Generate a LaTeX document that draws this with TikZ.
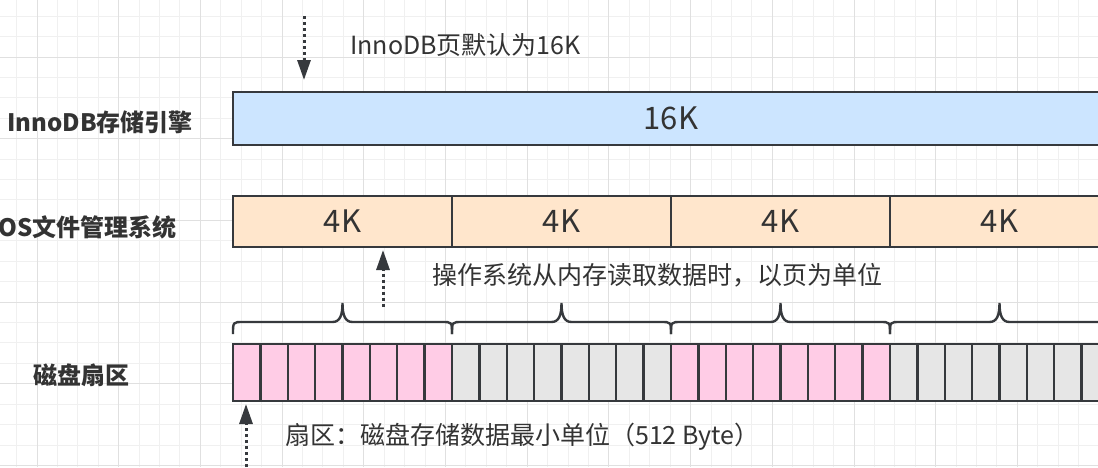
\documentclass[tikz,border=0pt]{standalone}
\usepackage{fontspec}
\setmainfont{Noto Sans CJK SC}
\usetikzlibrary{arrows.meta}
\definecolor{strokec}{HTML}{36393D}
\definecolor{txtc}{HTML}{333333}
\definecolor{bluec}{HTML}{CCE5FF}
\definecolor{orangec}{HTML}{FFE6CC}
\definecolor{pinkc}{HTML}{FFCCE6}
\definecolor{greyc}{HTML}{E6E6E6}
\definecolor{gridminor}{HTML}{F0F0F0}
\definecolor{gridmajor}{HTML}{E0E0E0}
\tikzset{
  boxstyle/.style={draw=strokec, line width=2.4pt, inner sep=0pt, outer sep=0pt, text=txtc, anchor=north west},
  bigtxt/.style={font=\fontsize{31}{36}\selectfont},
  lbl/.style={inner sep=0pt, text=txtc, font=\fontsize{25}{30}\selectfont},
  blbl/.style={inner sep=0pt, text=txtc, font=\fontsize{24}{29}\selectfont\bfseries},
  dotarr/.style={draw=strokec, line width=3pt, dash pattern=on 3pt off 3pt, -{Triangle[length=20pt,width=13pt]}},
  bracestyle/.style={draw=strokec, line width=2.4pt}
}
\begin{document}
\begin{tikzpicture}[x=1pt,y=-1pt]
\useasboundingbox (0,0) rectangle (1098,467);
\clip (0,0) rectangle (1098,467);
\fill[white] (0,0) rectangle (1098,467);
% grid
\foreach \i in {-2,...,54}{
  \draw[gridminor, line width=1pt] ({37+\i*20.425},0) -- ({37+\i*20.425},467);
}
\foreach \i in {-3,...,20}{
  \draw[gridminor, line width=1pt] (0,{57+\i*20.425}) -- (1098,{57+\i*20.425});
}
\foreach \i in {0,...,13}{
  \draw[gridmajor, line width=1pt] ({37+\i*81.7},0) -- ({37+\i*81.7},467);
}
\foreach \i in {-1,...,5}{
  \draw[gridmajor, line width=1pt] (0,{57+\i*81.7}) -- (1098,{57+\i*81.7});
}
% InnoDB page
\node[boxstyle, fill=bluec, minimum width=876pt, minimum height=53pt, bigtxt] (inno) at (233,92) {16K};
% OS pages
\foreach \i in {1,...,4}{
  \node[boxstyle, fill=orangec, minimum width=219pt, minimum height=51pt, bigtxt] (os\i) at ({233+219*(\i-1)},196) {4K};
}
% sectors
\foreach \i in {1,...,32}{
  \pgfmathtruncatemacro{\grp}{mod(floor((\i-1)/8),2)}
  \ifnum\grp=0 \def\sc{pinkc}\else\def\sc{greyc}\fi
  \node[boxstyle, fill=\sc, minimum width=27.375pt, minimum height=57pt] (s\i) at ({233+27.375*(\i-1)},344) {};
}
% braces
\foreach \i in {0,...,3}{
  \pgfmathsetmacro{\a}{233+219*\i}
  \draw[bracestyle] (\a,334) .. controls (\a,322) .. ({\a+10},322) -- ({\a+99.5},322)
     .. controls ({\a+107},322) and ({\a+109.5},315) .. ({\a+109.5},303)
     .. controls ({\a+109.5},315) and ({\a+112},322) .. ({\a+119.5},322)
     -- ({\a+209},322) .. controls ({\a+219},322) .. ({\a+219},334);
}
% labels
\node[lbl, anchor=west] (t1) at (350,45) {InnoDB页默认为16K};
\node[blbl, anchor=east] (l1) at (193,122) {InnoDB存储引擎};
\node[blbl, anchor=east] (l2) at (177,227) {OS文件管理系统};
\node[blbl, anchor=west] (l3) at (33,375) {磁盘扇区};
\node[lbl, anchor=west] (t2) at (432,275) {操作系统从内存读取数据时，以页为单位};
\node[lbl, anchor=west] (t3) at (285,437) {扇区：磁盘存储数据最小单位（512 Byte）};
% arrows
\coordinate (a1s) at (304,16);
\coordinate (a1e) at (304,80);
\draw[dotarr] (a1s) -- (a1e);
\coordinate (a2s) at (383,307);
\coordinate (a2e) at (383,250);
\draw[dotarr] (a2s) -- (a2e);
\coordinate (a3s) at (246,467);
\coordinate (a3e) at (246,404);
\draw[dotarr] (a3s) -- (a3e);
\end{tikzpicture}
\end{document}
